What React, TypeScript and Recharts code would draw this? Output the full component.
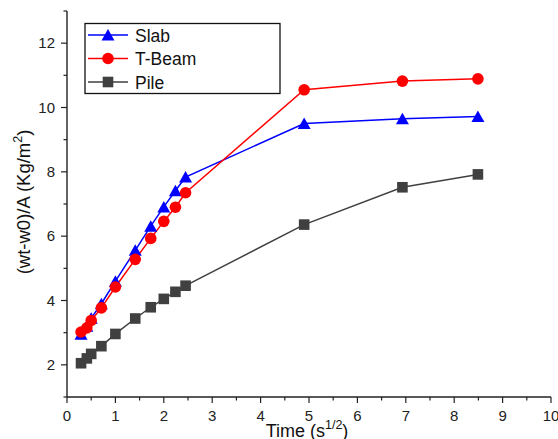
import React from 'react';
import { LineChart, Line, XAxis, YAxis } from 'recharts';

// sqrt of elapsed time (hours^1/2)
const timeRoot = [0.29, 0.41, 0.5, 0.71, 1, 1.41, 1.73, 2, 2.24, 2.45, 4.9, 6.93, 8.49];
const slab = [2.95, 3.2, 3.45, 3.9, 4.6, 5.56, 6.31, 6.91, 7.41, 7.84, 9.5, 9.65, 9.72];
const tBeam = [3.02, 3.15, 3.38, 3.77, 4.42, 5.28, 5.93, 6.46, 6.9, 7.35, 10.55, 10.82, 10.89];
const pile = [2.05, 2.2, 2.34, 2.58, 2.96, 3.44, 3.79, 4.05, 4.27, 4.46, 6.36, 7.52, 7.92];

const xTicks = [0, 0.5, 1, 1.5, 2, 2.5, 3, 3.5, 4, 4.5, 5, 5.5, 6, 6.5, 7, 7.5, 8, 8.5, 9, 9.5, 10];
const yTicks = [1, 2, 3, 4, 5, 6, 7, 8, 9, 10, 11, 12, 13];

const data = timeRoot.map((x, i) => ({ x, slab: slab[i], tBeam: tBeam[i], pile: pile[i] }));

const FONT = '"Liberation Sans", Arial, sans-serif';
const AXIS = '#222';
const BLUE = '#0000ff';
const RED = '#ff0000';
const GREY = '#404040';

const MAJOR = 6;
const MINOR = 3.5;

const BottomTick = (p: any) => {
  const major = Number.isInteger(p.payload.value);
  return (
    <g>
      <line x1={p.x} x2={p.x} y1={p.y} y2={p.y + (major ? MAJOR : MINOR)} stroke={AXIS} strokeWidth={1.2} />
      {major && (
        <text x={p.x} y={p.y + 24} textAnchor="middle" fontSize={15} fontFamily={FONT} fill={AXIS}>
          {p.payload.value}
        </text>
      )}
    </g>
  );
};

const TopTick = (p: any) => {
  const major = Number.isInteger(p.payload.value);
  return <line x1={p.x} x2={p.x} y1={p.y} y2={p.y + (major ? MAJOR : MINOR)} stroke={AXIS} strokeWidth={1.2} />;
};

const LeftTick = (p: any) => {
  const major = p.payload.value % 2 === 0;
  return (
    <g>
      <line x1={p.x} x2={p.x - (major ? MAJOR : MINOR)} y1={p.y} y2={p.y} stroke={AXIS} strokeWidth={1.2} />
      {major && (
        <text x={p.x - 12} y={p.y + 5} textAnchor="end" fontSize={15} fontFamily={FONT} fill={AXIS}>
          {p.payload.value}
        </text>
      )}
    </g>
  );
};

const RightTick = (p: any) => {
  const major = p.payload.value % 2 === 0;
  return <line x1={p.x} x2={p.x - (major ? MAJOR : MINOR)} y1={p.y} y2={p.y} stroke={AXIS} strokeWidth={1.2} />;
};

const triangle = (cx: number, cy: number, color: string, key?: any) => (
  <path key={key} d={`M${cx},${cy - 6} L${cx + 6.5},${cy + 5.5} L${cx - 6.5},${cy + 5.5} Z`} fill={color} />
);
const circle = (cx: number, cy: number, color: string, key?: any) => (
  <circle key={key} cx={cx} cy={cy} r={5.8} fill={color} />
);
const square = (cx: number, cy: number, color: string, key?: any) => (
  <rect key={key} x={cx - 5.3} y={cy - 5.3} width={10.6} height={10.6} fill={color} />
);

const series = [
  { key: 'slab', name: 'Slab', color: BLUE, marker: triangle },
  { key: 'tBeam', name: 'T-Beam', color: RED, marker: circle },
  { key: 'pile', name: 'Pile', color: GREY, marker: square },
];

export default function App() {
  return (
    <div style={{ position: 'absolute', left: 0, top: 0, width: 558, height: 439, background: '#fff' }}>
      <LineChart width={558} height={439} data={data} margin={{ top: 11, right: 7, bottom: 0, left: 0 }}>
        <XAxis
          xAxisId="b"
          type="number"
          dataKey="x"
          domain={[0, 10]}
          ticks={xTicks}
          interval={0}
          height={42}
          tickSize={0}
          tickMargin={0}
          tick={<BottomTick />}
          axisLine={{ stroke: AXIS, strokeWidth: 1.4 }}
        />
        <XAxis
          xAxisId="t"
          orientation="top"
          type="number"
          dataKey="x"
          domain={[0, 10]}
          ticks={xTicks}
          interval={0}
          height={0}
          tickSize={0}
          tickMargin={0}
          tick={<TopTick />}
          axisLine={{ stroke: AXIS, strokeWidth: 1.4 }}
        />
        <YAxis
          yAxisId="l"
          type="number"
          domain={[1, 13]}
          ticks={yTicks}
          interval={0}
          width={67}
          tickSize={0}
          tickMargin={0}
          tick={<LeftTick />}
          axisLine={{ stroke: AXIS, strokeWidth: 1.4 }}
        />
        <YAxis
          yAxisId="r"
          orientation="right"
          type="number"
          domain={[1, 13]}
          ticks={yTicks}
          interval={0}
          width={0}
          tickSize={0}
          tickMargin={0}
          tick={<RightTick />}
          axisLine={{ stroke: AXIS, strokeWidth: 1.4 }}
        />
        {series.map((s) => (
          <Line
            key={s.key}
            xAxisId="b"
            yAxisId="l"
            dataKey={s.key}
            stroke={s.color}
            strokeWidth={1.5}
            type="linear"
            isAnimationActive={false}
            dot={(p: any) => s.marker(p.cx, p.cy, s.color, p.index)}
            activeDot={false}
          />
        ))}
      </LineChart>

      <svg width={558} height={439} style={{ position: 'absolute', left: 0, top: 0, pointerEvents: 'none' }}>
        {/* legend */}
        <rect x={85} y={23.5} width={195} height={70} fill="#fff" stroke="#111" strokeWidth={1.3} />
        {series.map((s, i) => {
          const cy = 35 + i * 23.5;
          return (
            <g key={s.key}>
              <line x1={88} x2={128} y1={cy} y2={cy} stroke={s.color} strokeWidth={1.5} />
              {s.marker(108, cy, s.color)}
              <text x={135} y={cy + 6.5} fontSize={17.5} fontFamily={FONT} fill="#111">
                {s.name}
              </text>
            </g>
          );
        })}

        {/* axis titles */}
        <text x={307} y={436.5} textAnchor="middle" fontSize={18} fontFamily={FONT} fill="#111">
          Time (s
          <tspan dy={-8} fontSize={12.5}>1/2</tspan>
          <tspan dy={8}>)</tspan>
        </text>
        <text
          transform="translate(30,202) rotate(-90)"
          textAnchor="middle"
          fontSize={18.5}
          fontFamily={FONT}
          fill="#111"
        >
          (wt-w0)/A (Kg/m
          <tspan dy={-8} fontSize={12.5}>2</tspan>
          <tspan dy={8}>)</tspan>
        </text>
      </svg>
    </div>
  );
}
